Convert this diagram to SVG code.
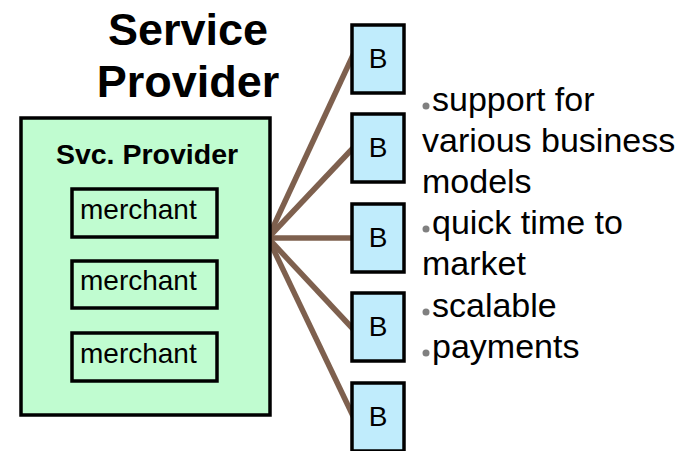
<svg xmlns="http://www.w3.org/2000/svg" width="688" height="451" viewBox="0 0 688 451">
<style>
.lbl{font-family:"Liberation Sans",Arial,sans-serif;fill:#000}
.b{fill:#c0ecfc;stroke:#000;stroke-width:3.5}
.m{fill:#c0fcd0;stroke:#000;stroke-width:3.5}
.conn{stroke:#7e604e;stroke-width:5.5;fill:none}
.dot{fill:#808080}
</style>
<rect width="688" height="451" fill="#fff"/>
<g id="title">
<text class="lbl" x="188" y="45" font-size="45" font-weight="bold" text-anchor="middle">Service</text>
<text class="lbl" x="188" y="97" font-size="45" font-weight="bold" text-anchor="middle">Provider</text>
</g>
<g id="connectors">
<line class="conn" x1="268" y1="238" x2="354" y2="53"/>
<line class="conn" x1="268" y1="238" x2="354" y2="147"/>
<line class="conn" x1="268" y1="238" x2="354" y2="238"/>
<line class="conn" x1="268" y1="238" x2="354" y2="330"/>
<line class="conn" x1="268" y1="238" x2="354" y2="418"/>
</g>
<g id="svc-provider">
<rect class="m" x="21" y="118" width="249" height="297"/>
<text class="lbl" x="147" y="164" font-size="28.5" font-weight="bold" text-anchor="middle">Svc. Provider</text>
</g>
<g id="merchant1">
<rect class="m" x="72" y="189" width="145" height="48"/>
<text class="lbl" x="80" y="219" font-size="28">merchant</text>
</g>
<g id="merchant2">
<rect class="m" x="72" y="261" width="145" height="47"/>
<text class="lbl" x="80" y="290" font-size="28">merchant</text>
</g>
<g id="merchant3">
<rect class="m" x="72" y="333" width="145" height="48"/>
<text class="lbl" x="80" y="363" font-size="28">merchant</text>
</g>
<g id="b1"><rect class="b" x="352" y="25" width="52" height="68"/><text class="lbl" x="378" y="68" font-size="28" text-anchor="middle">B</text></g>
<g id="b2"><rect class="b" x="352" y="114" width="52" height="68"/><text class="lbl" x="378" y="157" font-size="28" text-anchor="middle">B</text></g>
<g id="b3"><rect class="b" x="352" y="204" width="52" height="68"/><text class="lbl" x="378" y="247" font-size="28" text-anchor="middle">B</text></g>
<g id="b4"><rect class="b" x="352" y="293" width="52" height="68"/><text class="lbl" x="378" y="336" font-size="28" text-anchor="middle">B</text></g>
<g id="b5"><rect class="b" x="352" y="383" width="52" height="68"/><text class="lbl" x="378" y="426" font-size="28" text-anchor="middle">B</text></g>
<g id="features">
<circle class="dot" cx="426" cy="106" r="3.5"/>
<text class="lbl" x="432" y="111" font-size="34">support for</text>
<text class="lbl" x="422" y="152" font-size="34">various business</text>
<text class="lbl" x="422" y="193" font-size="34">models</text>
<circle class="dot" cx="426" cy="229" r="3.5"/>
<text class="lbl" x="432" y="234" font-size="34">quick time to</text>
<text class="lbl" x="422" y="275" font-size="34">market</text>
<circle class="dot" cx="426" cy="312" r="3.5"/>
<text class="lbl" x="432" y="317" font-size="34">scalable</text>
<circle class="dot" cx="426" cy="353" r="3.5"/>
<text class="lbl" x="432" y="358" font-size="34">payments</text>
</g>
</svg>
